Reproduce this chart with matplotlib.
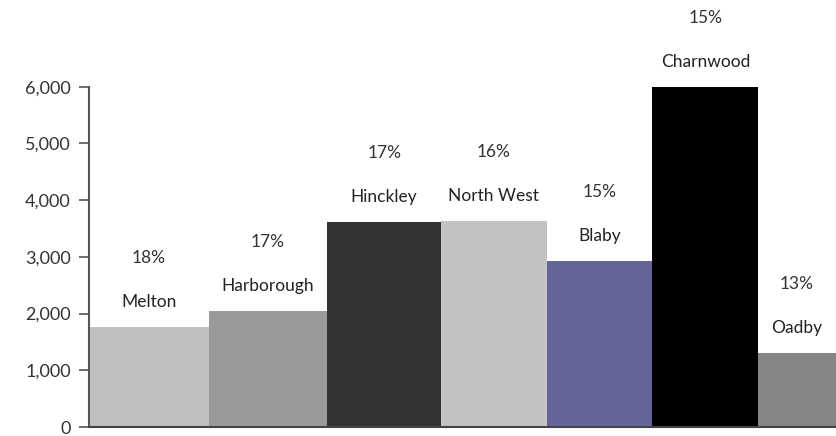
import matplotlib.pyplot as plt
import numpy as np

# data
districts = ["Melton", "Harborough", "Hinckley", "North West", "Blaby", "Charnwood", "Oadby"]
values = [1760, 2040, 3620, 3630, 2930, 6000, 1310]
shares = ["18%", "17%", "17%", "16%", "15%", "15%", "13%"]
yticks = [0, 1000, 2000, 3000, 4000, 5000, 6000]

# styling (bar widths in pixels, the bars touch each other)
widths = [120, 119, 114, 106, 106, 106, 78]
colors = ["#c0c0c0", "#9a9a9a", "#323232", "#c2c2c2", "#636598", "#000000", "#858585"]

plt.rcParams['font.family'] = ['Lato', 'DejaVu Sans']

fig = plt.figure(figsize=(8.36, 4.36), dpi=100)
ax = fig.add_axes([89 / 836, 9 / 436, 1 - 89 / 836, 1 - 9 / 436])

lefts = np.concatenate([[0], np.cumsum(widths)[:-1]])
ax.bar(lefts, values, width=widths, align="edge", color=colors, linewidth=0)

for x, w, v, name, pct in zip(lefts, widths, values, districts, shares):
    ax.annotate(name, (x + w / 2, v), xytext=(0, 25), textcoords="offset pixels",
                ha="center", va="center", fontsize=12.5, color="#222222")
    ax.annotate(pct, (x + w / 2, v), xytext=(0, 69), textcoords="offset pixels",
                ha="center", va="center", fontsize=12.5, color="#333333")

ax.set_xlim(0, sum(widths))
ax.set_ylim(0, 7530)
ax.set_yticks(yticks)
ax.set_yticklabels([f"{t:,}" for t in yticks])
ax.set_xticks([])

for s in ["top", "right"]:
    ax.spines[s].set_visible(False)
ax.spines["left"].set_color("#555555")
ax.spines["bottom"].set_color("#444444")
ax.spines["left"].set_linewidth(1.5)
ax.spines["bottom"].set_linewidth(1.5)
ax.spines["left"].set_bounds(0, 6000)
ax.tick_params(axis="y", length=7, width=1.2, color="#555555", labelsize=13,
               labelcolor="#333333", pad=6)

fig.savefig("out.png", dpi=100, facecolor="white")
